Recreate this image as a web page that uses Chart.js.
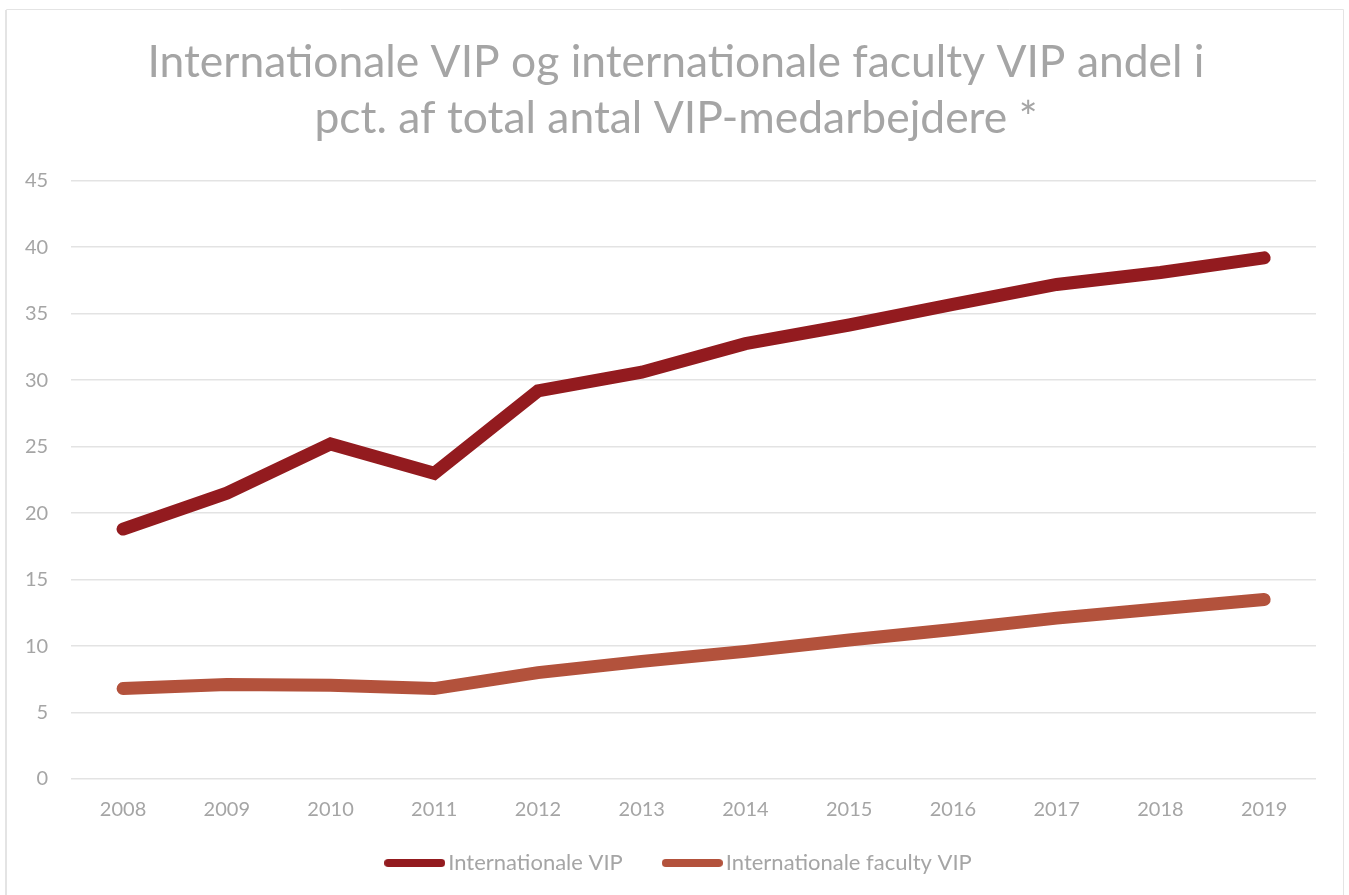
<!DOCTYPE html>
<html>
<head>
<meta charset="utf-8">
<script src="https://cdn.jsdelivr.net/npm/chart.js@4/dist/chart.umd.min.js"></script>
<style>
  html, body { margin: 0; padding: 0; background: #ffffff; }
  #wrap { width: 1349px; height: 895px; position: relative; }
</style>
</head>
<body>
<div id="wrap"><canvas id="c" width="1349" height="895"></canvas></div>
<script>
const years = ['2008','2009','2010','2011','2012','2013','2014','2015','2016','2017','2018','2019'];
const internationaleVIP = [18.8, 21.5, 25.2, 23.0, 29.2, 30.6, 32.75, 34.15, 35.7, 37.2, 38.1, 39.2];
const facultyVIP = [6.8, 7.1, 7.05, 6.8, 8.0, 8.85, 9.6, 10.45, 11.25, 12.1, 12.8, 13.5];
const yTicks = [0, 5, 10, 15, 20, 25, 30, 35, 40, 45];
const titleLines = ['Internationale VIP og internationale faculty VIP andel i', 'pct. af total antal VIP-medarbejdere *'];
const seriesNames = ['Internationale VIP', 'Internationale faculty VIP'];

const darkRed = '#931B1F';
const brick = '#B3523C';
const gray = '#A5A5A5';

function legendSwatch(color) {
  const cv = document.createElement('canvas');
  cv.width = 61; cv.height = 12;
  const g = cv.getContext('2d');
  g.strokeStyle = color;
  g.lineWidth = 8;
  g.lineCap = 'round';
  g.beginPath();
  g.moveTo(4, 6);
  g.lineTo(57, 6);
  g.stroke();
  return cv;
}

const borderPlugin = {
  id: 'outerBorder',
  afterLayout(chart) {
    const lg = chart.legend;
    if (lg) { lg.left += 23; lg.right += 23; lg.top -= 36; lg.bottom -= 36; }
    const tt = chart.titleBlock;
    if (tt) { tt.left += 17; tt.right += 17; }
  },
  beforeDraw(chart) {
    const ctx = chart.ctx;
    ctx.save();
    ctx.fillStyle = '#ffffff';
    ctx.fillRect(0, 0, chart.width, chart.height);
    ctx.strokeStyle = '#e4e4e4';
    ctx.lineWidth = 1;
    ctx.beginPath();
    ctx.moveTo(6.5, 900);
    ctx.lineTo(6.5, 9.5);
    ctx.lineTo(1343.5, 9.5);
    ctx.lineTo(1343.5, 900);
    ctx.stroke();
    ctx.lineWidth = 2;
    ctx.beginPath();
    ctx.moveTo(6, 10);
    ctx.lineTo(6, 900);
    ctx.stroke();
    ctx.restore();
  }
};

new Chart(document.getElementById('c'), {
  type: 'line',
  data: {
    labels: years,
    datasets: [
      {
        label: seriesNames[0],
        data: internationaleVIP,
        borderColor: darkRed,
        backgroundColor: darkRed,
        borderWidth: 13,
        borderCapStyle: 'round',
        borderJoinStyle: 'miter',
        pointRadius: 0,
        pointHoverRadius: 0,
        pointStyle: legendSwatch(darkRed),
        tension: 0,
        fill: false
      },
      {
        label: seriesNames[1],
        data: facultyVIP,
        borderColor: brick,
        backgroundColor: brick,
        borderWidth: 13,
        borderCapStyle: 'round',
        borderJoinStyle: 'miter',
        pointRadius: 0,
        pointHoverRadius: 0,
        pointStyle: legendSwatch(brick),
        tension: 0,
        fill: false
      }
    ]
  },
  options: {
    responsive: false,
    animation: false,
    events: [],
    layout: { padding: { left: 2, right: 33, top: 0, bottom: -25 } },
    plugins: {
      title: {
        display: true,
        text: titleLines,
        color: gray,
        font: { family: 'Lato', size: 44.4, weight: '400', lineHeight: 1.27 },
        padding: { top: 34, bottom: 34 }
      },
      legend: {
        display: true,
        position: 'bottom',
        labels: {
          color: gray,
          font: { family: 'Lato', size: 22 },
          usePointStyle: true,
          pointStyleWidth: 45,
          boxHeight: 12,
          padding: 47
        }
      },
      tooltip: { enabled: false }
    },
    scales: {
      x: {
        offset: true,
        grid: { display: false, drawTicks: false },
        border: { display: false },
        ticks: { color: gray, font: { family: 'Lato', size: 20 }, padding: 19, maxRotation: 0, autoSkip: false }
      },
      y: {
        min: 0,
        max: 45,
        afterBuildTicks(scale) { scale.ticks = yTicks.map(v => ({ value: v })); },
        grid: { color: '#e3e3e3', lineWidth: 1.5, drawTicks: false },
        border: { display: false },
        ticks: { color: gray, font: { family: 'Lato', size: 20 }, padding: 23 }
      }
    }
  },
  plugins: [borderPlugin]
});
</script>
</body>
</html>
